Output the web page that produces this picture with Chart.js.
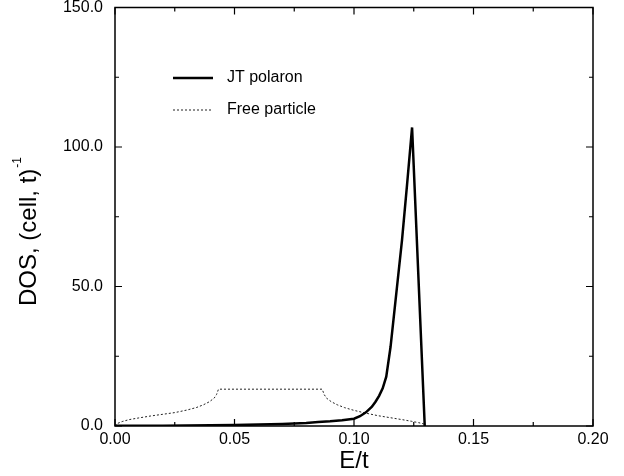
<!DOCTYPE html>
<html>
<head>
<meta charset="utf-8">
<script src="https://cdn.jsdelivr.net/npm/chart.js@4/dist/chart.umd.min.js"></script>
<style>
  body { margin: 0; background: #fff; }
</style>
</head>
<body>
<canvas id="dos" width="624" height="476"></canvas>
<script>
// --- data ---
const polaronE = [0, 0.01, 0.02, 0.03, 0.04, 0.05, 0.06, 0.07, 0.08, 0.085, 0.09, 0.095, 0.1, 0.1025, 0.105, 0.1075, 0.109, 0.1105, 0.112, 0.1135, 0.1153, 0.1177, 0.1201, 0.1222, 0.1243, 0.1296];
const polaronDOS = [0.05, 0.08, 0.12, 0.18, 0.25, 0.35, 0.5, 0.75, 1.1, 1.4, 1.7, 2.1, 2.6, 3.5, 4.9, 6.9, 8.7, 10.8, 13.5, 17.7, 28.4, 47.5, 66.7, 86.5, 107.0, 0];

const freeE = [0, 0.001, 0.003, 0.006, 0.01, 0.015, 0.02, 0.025, 0.03, 0.034, 0.037, 0.0395, 0.0415, 0.0425, 0.0433,
               0.0867, 0.0875, 0.0885, 0.0905, 0.093, 0.096, 0.1, 0.105, 0.11, 0.115, 0.12, 0.124, 0.127, 0.129, 0.13];
const freeDOS = [0, 0.9, 1.6, 2.3, 2.9, 3.6, 4.2, 4.8, 5.7, 6.6, 7.6, 8.7, 10.0, 11.3, 13.2,
                 13.2, 11.3, 10.0, 8.7, 7.6, 6.6, 5.6, 4.6, 3.7, 3.0, 2.3, 1.7, 1.2, 0.8, 0];

const xTicks = [0, 0.025, 0.05, 0.075, 0.1, 0.125, 0.15, 0.175, 0.2];
const yTicks = [0, 25, 50, 75, 100, 125, 150];
const seriesNames = ['JT polaron', 'Free particle'];

const FONT = "'Liberation Sans', Arial, sans-serif";

function toPoints(xs, ys) {
  return xs.map((x, i) => ({ x: x, y: ys[i] }));
}

// frame, inward ticks, legend and y title
const framePlugin = {
  id: 'frame',
  afterDraw(chart) {
    const ctx = chart.ctx;
    const a = chart.chartArea;
    const xs = chart.scales.x, ys = chart.scales.y;
    ctx.save();
    ctx.strokeStyle = '#000';
    ctx.lineWidth = 1.5;
    ctx.strokeRect(a.left, a.top, a.right - a.left, a.bottom - a.top);

    ctx.lineWidth = 1.2;
    ctx.beginPath();
    xTicks.forEach((v, i) => {
      const px = xs.getPixelForValue(v);
      const len = i % 2 === 0 ? 7 : 4;
      ctx.moveTo(px, a.bottom); ctx.lineTo(px, a.bottom - len);
      ctx.moveTo(px, a.top); ctx.lineTo(px, a.top + len);
    });
    yTicks.forEach((v, i) => {
      const py = ys.getPixelForValue(v);
      const len = i % 2 === 0 ? 7 : 4;
      ctx.moveTo(a.left, py); ctx.lineTo(a.left + len, py);
      ctx.moveTo(a.right, py); ctx.lineTo(a.right - len, py);
    });
    ctx.stroke();

    // legend
    const ds = chart.data.datasets;
    const rows = [78, 110];
    ctx.font = '16px ' + FONT;
    ctx.fillStyle = '#000';
    ctx.textBaseline = 'middle';
    ds.forEach((d, i) => {
      ctx.beginPath();
      ctx.lineWidth = d.borderWidth;
      ctx.setLineDash(d.borderDash || []);
      ctx.strokeStyle = d.borderColor;
      ctx.moveTo(173, rows[i]); ctx.lineTo(213, rows[i]);
      ctx.stroke();
      ctx.setLineDash([]);
      ctx.fillText(d.label, 227, rows[i]);
    });

    // y title with superscript
    ctx.translate(36, 306);
    ctx.rotate(-Math.PI / 2);
    ctx.textBaseline = 'alphabetic';
    ctx.textAlign = 'left';
    ctx.font = '24px ' + FONT;
    const main = 'DOS, (cell, t)';
    ctx.fillText(main, 0, 0);
    const w = ctx.measureText(main).width;
    ctx.font = '12px ' + FONT;
    ctx.fillText('-1', w + 1, -15);
    ctx.restore();
  }
};

new Chart(document.getElementById('dos'), {
  type: 'scatter',
  data: {
    datasets: [
      {
        label: seriesNames[0],
        data: toPoints(polaronE, polaronDOS),
        showLine: true,
        borderColor: '#000',
        borderWidth: 2.5,
        pointRadius: 0,
        tension: 0
      },
      {
        label: seriesNames[1],
        data: toPoints(freeE, freeDOS),
        showLine: true,
        borderColor: '#222',
        borderWidth: 1,
        borderDash: [2, 2],
        pointRadius: 0,
        tension: 0
      }
    ]
  },
  options: {
    responsive: false,
    animation: false,
    layout: { padding: { top: 7.5, right: 31, left: 0, bottom: 0 } },
    plugins: {
      legend: { display: false },
      tooltip: { enabled: false }
    },
    scales: {
      x: {
        type: 'linear',
        min: 0,
        max: 0.2,
        border: { display: false },
        grid: { display: false, drawTicks: false },
        afterBuildTicks: (s) => { s.ticks = xTicks.map(v => ({ value: v })); },
        afterFit: (s) => { s.height = 50; s.paddingLeft = 0; s.paddingRight = 0; },
        ticks: {
          autoSkip: false,
          maxRotation: 0,
          padding: 4,
          color: '#000',
          font: { family: FONT, size: 16 },
          callback: (v, i) => (i % 2 === 0 ? v.toFixed(2) : '')
        },
        title: {
          display: true,
          text: 'E/t',
          color: '#000',
          font: { family: FONT, size: 24 },
          padding: { top: 0, bottom: 0 }
        }
      },
      y: {
        type: 'linear',
        min: 0,
        max: 150,
        border: { display: false },
        grid: { display: false, drawTicks: false },
        afterBuildTicks: (s) => { s.ticks = yTicks.map(v => ({ value: v })); },
        afterFit: (s) => { s.width = 115; s.paddingTop = 0; s.paddingBottom = 0; },
        ticks: {
          autoSkip: false,
          padding: 12,
          color: '#000',
          font: { family: FONT, size: 16 },
          callback: (v, i) => (i % 2 === 0 ? v.toFixed(1) : '')
        }
      }
    }
  },
  plugins: [framePlugin]
});
</script>
</body>
</html>
